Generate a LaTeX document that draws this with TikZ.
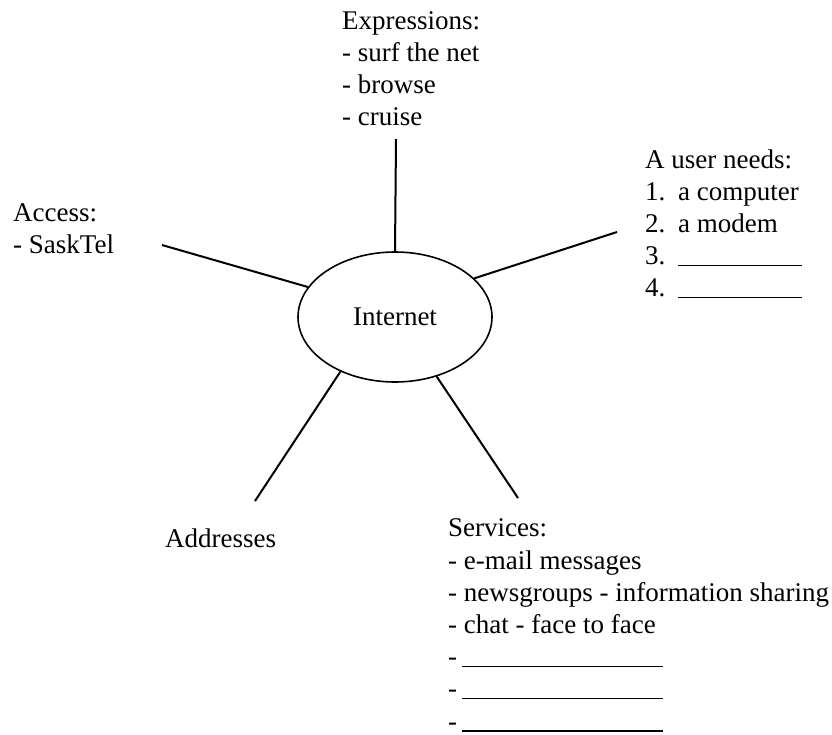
\documentclass[tikz,border=0pt]{standalone}
\usepackage{fontspec}
\setmainfont{Liberation Serif}
\usetikzlibrary{shapes.geometric}
\tikzset{
  lbl/.style={anchor=base west, align=left, inner sep=0pt, font=\fontsize{27}{32.2}\selectfont},
  hub/.style={draw, ellipse, line width=1.6pt, minimum width=194pt, minimum height=130pt, inner sep=0pt, font=\fontsize{27}{32}\selectfont},
  spoke/.style={line width=2pt}
}
\newcommand{\blankline}[1]{\rule[-1.5pt]{#1}{1.3pt}}
\begin{document}
\begin{tikzpicture}[x=1pt,y=-1pt]
\useasboundingbox (0,0) rectangle (832,734);
\node[hub] (inet) at (395,317) {Internet};
% base anchor = baseline of the last line
\node[lbl] (expr) at (342,125.6) {Expressions:\\- surf the net\\- browse\\- cruise};
\node[lbl] (access) at (13,253.2) {Access:\\- SaskTel};
\node[lbl] (needs) at (645,296.8) {A user needs:\\\makebox[33pt][l]{1.}a computer\\\makebox[33pt][l]{2.}a modem\\\makebox[33pt][l]{3.}\blankline{124pt}\\\makebox[33pt][l]{4.}\blankline{124pt}};
\node[lbl] (addr) at (165,547) {Addresses};
\node[lbl] (serv) at (448,730) {Services:\\- e-mail messages\\- newsgroups - information sharing\\- chat - face to face\\\makebox[14pt][l]{-}\blankline{201pt}\\\makebox[14pt][l]{-}\blankline{201pt}\\\makebox[14pt][l]{-}\blankline{201pt}};
\coordinate (eT) at (396,139);
\coordinate (eL) at (162,245);
\coordinate (eR) at (617,232);
\coordinate (eBL) at (255,501);
\coordinate (eBR) at (518,498);
\draw[spoke] (eT) -- (inet.90);
\draw[spoke] (eL) -- (inet.161.6);
\draw[spoke] (eR) -- (inet.26);
\draw[spoke] (eBL) -- (inet.225.5);
\draw[spoke] (eBR) -- (inet.305);
\end{tikzpicture}
\end{document}
